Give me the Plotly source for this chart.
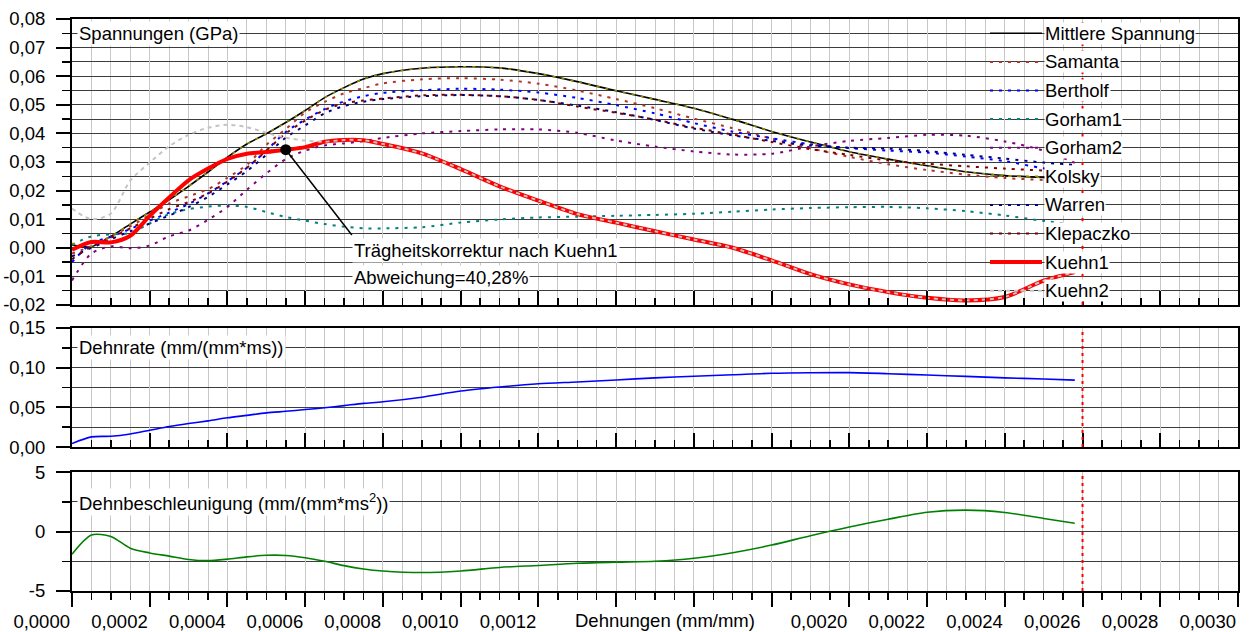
import plotly.graph_objects as go

# ---------------------------------------------------------------- data
strain = [0, 0.00005, 0.0001, 0.00015, 0.0002, 0.00025, 0.0003, 0.00035, 0.0004, 0.00045,
          0.0005, 0.00055, 0.0006, 0.00065, 0.0007, 0.00075, 0.0008, 0.0009, 0.0010, 0.0011,
          0.0012, 0.0013, 0.0014, 0.0015, 0.0016, 0.0017, 0.0018, 0.0019, 0.0020, 0.0021,
          0.0022, 0.0023, 0.0024, 0.0025, 0.00258]

mittlere_spannung = [0.0010, 0.0004, 0.0040, 0.0083, 0.0125, 0.0168, 0.0215, 0.0265, 0.0317, 0.0363,
                     0.0399, 0.0438, 0.0480, 0.0525, 0.0560, 0.0590, 0.0609, 0.0628, 0.0633, 0.0629,
                     0.0609, 0.0581, 0.0549, 0.0519, 0.0488, 0.0449, 0.0407, 0.0370, 0.0336, 0.0310,
                     0.0287, 0.0266, 0.0253, 0.0246, 0.0243]
samanta = [-0.0020, 0.0006, 0.0040, 0.0075, 0.0115, 0.0155, 0.0180, 0.0205, 0.0245, 0.0290,
           0.0360, 0.0415, 0.0473, 0.0510, 0.0540, 0.0558, 0.0575, 0.0589, 0.0593, 0.0588,
           0.0574, 0.0550, 0.0520, 0.0488, 0.0452, 0.0418, 0.0382, 0.0348, 0.0318, 0.0292,
           0.0272, 0.0256, 0.0244, 0.0237, 0.0234]
bertholf = [-0.0050, 0.0015, 0.0039, 0.0066, 0.0095, 0.0123, 0.0153, 0.0190, 0.0233, 0.0280,
            0.0340, 0.0405, 0.0448, 0.0485, 0.0512, 0.0530, 0.0542, 0.0551, 0.0556, 0.0553,
            0.0543, 0.0524, 0.0499, 0.0470, 0.0436, 0.0406, 0.0383, 0.0362, 0.0349, 0.0340,
            0.0333, 0.0319, 0.0303, 0.0278, 0.0265]
gorham1 = [0.0010, 0.0040, 0.0047, 0.0052, 0.0085, 0.0118, 0.0135, 0.0144, 0.0148, 0.0143,
           0.0125, 0.0108, 0.0095, 0.0083, 0.0074, 0.0068, 0.0068, 0.0072, 0.0088, 0.0099,
           0.0106, 0.0109, 0.0112, 0.0115, 0.0119, 0.0126, 0.0134, 0.0139, 0.0142, 0.0143,
           0.0138, 0.0128, 0.0113, 0.0094, 0.0080]
gorham2 = [-0.0114, -0.0020, 0.0005, -0.0002, 0.0008, 0.0040, 0.0060, 0.0098, 0.0143, 0.0203,
           0.0260, 0.0310, 0.0340, 0.0358, 0.0365, 0.0373, 0.0384, 0.0400, 0.0408, 0.0414,
           0.0414, 0.0402, 0.0375, 0.0354, 0.0337, 0.0326, 0.0329, 0.0354, 0.0374, 0.0384,
           0.0395, 0.0392, 0.0372, 0.0340, 0.0297]
kolsky = [0.0016, 0.0005, 0.0040, 0.0083, 0.0125, 0.0168, 0.0215, 0.0265, 0.0317, 0.0363,
          0.0399, 0.0438, 0.0480, 0.0525, 0.0560, 0.0590, 0.0609, 0.0628, 0.0633, 0.0629,
          0.0609, 0.0581, 0.0549, 0.0519, 0.0488, 0.0449, 0.0407, 0.0370, 0.0336, 0.0310,
          0.0287, 0.0266, 0.0253, 0.0246, 0.0243]
warren = [-0.0030, 0.0000, 0.0030, 0.0058, 0.0085, 0.0113, 0.0142, 0.0178, 0.0222, 0.0268,
          0.0325, 0.0385, 0.0428, 0.0470, 0.0496, 0.0511, 0.0520, 0.0530, 0.0534, 0.0530,
          0.0517, 0.0497, 0.0474, 0.0447, 0.0417, 0.0393, 0.0374, 0.0358, 0.0350, 0.0347,
          0.0338, 0.0325, 0.0312, 0.0298, 0.0290]
klepaczko = [-0.0040, 0.0005, 0.0035, 0.0068, 0.0102, 0.0135, 0.0160, 0.0190, 0.0232, 0.0280,
             0.0340, 0.0400, 0.0445, 0.0482, 0.0505, 0.0515, 0.0522, 0.0533, 0.0535, 0.0530,
             0.0517, 0.0494, 0.0472, 0.0448, 0.0420, 0.0396, 0.0370, 0.0345, 0.0325, 0.0305,
             0.0294, 0.0285, 0.0277, 0.0270, 0.0266]
kuehn1 = [-0.0007, 0.0020, 0.0019, 0.0042, 0.0112, 0.0176, 0.0236, 0.0277, 0.0311, 0.0329,
          0.0335, 0.0343, 0.0352, 0.0371, 0.0377, 0.0376, 0.0363, 0.0330, 0.0275, 0.0215,
          0.0165, 0.0118, 0.0088, 0.0058, 0.0029, 0.0000, -0.0044, -0.0092, -0.0128, -0.0155,
          -0.0175, -0.0184, -0.0172, -0.0115, -0.0085]
kuehn2 = [0.0137, 0.0100, 0.0120, 0.0235, 0.0298, 0.0355, 0.0395, 0.0420, 0.0430, 0.0422,
          0.0402, 0.0385, 0.0375, 0.0371, 0.0377, 0.0376, 0.0363, 0.0330, 0.0275, 0.0215,
          0.0165, 0.0118, 0.0088, 0.0058, 0.0029, 0.0000, -0.0044, -0.0092, -0.0128, -0.0155,
          -0.0175, -0.0184, -0.0172, -0.0115, -0.0085]

dehnrate = [0.0044, 0.0128, 0.0136, 0.0165, 0.0211, 0.0258, 0.0296, 0.0330, 0.0368, 0.0399,
            0.0430, 0.0450, 0.0472, 0.0495, 0.0522, 0.0550, 0.0570, 0.0628, 0.0706, 0.0757,
            0.0797, 0.0820, 0.0845, 0.0871, 0.0892, 0.0910, 0.0929, 0.0936, 0.0937, 0.0924,
            0.0907, 0.0890, 0.0872, 0.0857, 0.0843]
dehnbeschleunigung = [-1.92, -0.30, -0.42, -1.40, -1.80, -2.07, -2.35, -2.45, -2.32, -2.13,
                      -2.00, -2.01, -2.20, -2.50, -2.87, -3.15, -3.32, -3.45, -3.32, -3.02,
                      -2.85, -2.67, -2.57, -2.50, -2.25, -1.78, -1.14, -0.35, 0.38, 1.03,
                      1.62, 1.80, 1.60, 1.10, 0.69]

series_names = ["Mittlere Spannung", "Samanta", "Bertholf", "Gorham1", "Gorham2",
                "Kolsky", "Warren", "Klepaczko", "Kuehn1", "Kuehn2"]
series_values = [mittlere_spannung, samanta, bertholf, gorham1, gorham2,
                 kolsky, warren, klepaczko, kuehn1, kuehn2]

# marked point on the Kuehn1 curve and the deviation text
marker_index = 11
label_anchor = (0.00072, 0.0045)
deviation_text = ["Trägheitskorrektur nach Kuehn1", "Abweichung=40,28%"]
strain_limit = 0.0026

stress_ticks = [-0.02, -0.01, 0.00, 0.01, 0.02, 0.03, 0.04, 0.05, 0.06, 0.07, 0.08]
rate_ticks = [0.00, 0.05, 0.10, 0.15]
accel_ticks = [-5, 0, 5]
strain_ticks = [0.0000, 0.0002, 0.0004, 0.0006, 0.0008, 0.0010, 0.0012, 0.0014,
                0.0016, 0.0018, 0.0020, 0.0022, 0.0024, 0.0026, 0.0028, 0.0030]
strain_hidden = [0.0014, 0.0016, 0.0018]

# ---------------------------------------------------------------- styles
DOT = "3px,6px"
styles = {
    "Mittlere Spannung": dict(color="#000000", width=1.6, dash="solid"),
    "Samanta": dict(color="#b0342c", width=2, dash=DOT),
    "Bertholf": dict(color="#0000ff", width=2, dash=DOT),
    "Gorham1": dict(color="#008080", width=2, dash=DOT),
    "Gorham2": dict(color="#800080", width=2, dash=DOT),
    "Kolsky": dict(color="#8c8c00", width=1.6, dash=DOT),
    "Warren": dict(color="#000080", width=2, dash=DOT),
    "Klepaczko": dict(color="#800000", width=2, dash=DOT),
    "Kuehn1": dict(color="#ff0000", width=4, dash="solid"),
    "Kuehn2": dict(color="#c4c4c4", width=2, dash="4px,4px"),
}

FONT = "Arial, Liberation Sans, sans-serif"
FSIZE = 18.5
GRID_X = "#c8c8c8"
GRID_Y = "#3c3c3c"


def fmt_comma(v, digits):
    return f"{v:.{digits}f}".replace(".", ",")


fig = go.Figure()

for name, vals in zip(series_names, series_values):
    st = styles[name]
    fig.add_trace(go.Scatter(
        x=strain, y=vals, mode="lines", name=name,
        line=dict(color=st["color"], width=st["width"], dash=st["dash"],
                  shape="spline", smoothing=0.8),
        xaxis="x", yaxis="y", hoverinfo="skip", showlegend=False))

fig.add_trace(go.Scatter(
    x=[strain[marker_index]], y=[kuehn1[marker_index]], mode="markers",
    marker=dict(color="black", size=11), xaxis="x", yaxis="y",
    hoverinfo="skip", showlegend=False))

fig.add_trace(go.Scatter(
    x=strain, y=dehnrate, mode="lines",
    line=dict(color="#0000ff", width=1.6, shape="spline", smoothing=0.8),
    xaxis="x2", yaxis="y2", hoverinfo="skip", showlegend=False))

fig.add_trace(go.Scatter(
    x=strain, y=dehnbeschleunigung, mode="lines",
    line=dict(color="#008000", width=1.6, shape="spline", smoothing=0.8),
    xaxis="x3", yaxis="y3", hoverinfo="skip", showlegend=False))

# ---------------------------------------------------------------- axes
def x_axis(anchor, inside, labels):
    ax = dict(
        anchor=anchor, domain=[0, 1], range=[0, 0.003],
        tickmode="array", tickvals=strain_ticks,
        ticks="inside" if inside else "outside", ticklen=14, tickwidth=2, tickcolor="black",
        showticklabels=labels,
        showgrid=True, gridcolor=GRID_X, gridwidth=1,
        minor=dict(dtick=0.00005, tick0=0, ticks="inside" if inside else "outside",
                   ticklen=7, tickwidth=1.5, tickcolor="black",
                   showgrid=True, gridcolor=GRID_X, gridwidth=1),
        showline=True, linecolor="black", linewidth=2, mirror=True,
        zeroline=False, fixedrange=True, automargin=False,
    )
    if labels:
        ax["ticktext"] = ["" if any(abs(v - h) < 1e-9 for h in strain_hidden)
                          else fmt_comma(v, 4) for v in strain_ticks]
        ax["ticklabelposition"] = "outside left"
        ax["ticklabelstandoff"] = 13
        ax["tickfont"] = dict(family=FONT, size=FSIZE, color="black")
    return ax


def y_axis(domain, rng, ticks, texts, minor_step, anchor):
    return dict(
        domain=domain, range=rng, anchor=anchor,
        tickmode="array", tickvals=ticks, ticktext=texts,
        ticks="outside", ticklen=14, tickwidth=2, tickcolor="black",
        ticklabelstandoff=7,
        tickfont=dict(family=FONT, size=FSIZE, color="black"),
        showgrid=True, gridcolor=GRID_Y, gridwidth=1,
        minor=dict(dtick=minor_step, tick0=0, ticks="outside", ticklen=8, tickwidth=1.5,
                   tickcolor="black", showgrid=True, gridcolor=GRID_Y, gridwidth=1),
        showline=True, linecolor="black", linewidth=2, mirror=True,
        zeroline=False, fixedrange=True, automargin=False,
    )


fig.update_layout(
    width=1250, height=632,
    margin=dict(l=72, r=12, t=19, b=41, autoexpand=False),
    paper_bgcolor="white", plot_bgcolor="white",
    font=dict(family=FONT, size=FSIZE, color="black"),
    xaxis=x_axis("y", True, False),
    xaxis2=x_axis("y2", True, False),
    xaxis3=x_axis("y3", False, True),
    yaxis=y_axis([0.5, 1.0], [-0.02, 0.08], stress_ticks,
                 [fmt_comma(v, 2) for v in stress_ticks], 0.005, "x"),
    yaxis2=y_axis([0.2517, 0.4598], [0, 0.15], rate_ticks,
                  [fmt_comma(v, 2) for v in rate_ticks], 0.025, "x2"),
    yaxis3=y_axis([0.0, 0.208], [-5, 5], accel_ticks,
                  [str(v) for v in accel_ticks], 2.5, "x3"),
    hovermode=False,
)

# ---------------------------------------------------------------- shapes
shapes = []
for xr, yr in (("x", "y domain"), ("x2", "y2 domain"), ("x3", "y3 domain")):
    shapes.append(dict(type="line", xref=xr, yref=yr, x0=strain_limit, x1=strain_limit,
                       y0=0, y1=1, line=dict(color="#ff0000", width=2, dash="3px,4px"),
                       layer="above"))

shapes.append(dict(type="line", xref="x", yref="y",
                   x0=strain[marker_index], y0=kuehn1[marker_index],
                   x1=label_anchor[0], y1=label_anchor[1],
                   line=dict(color="black", width=1.5), layer="above"))

# hand-placed key, one row per stress curve on the half-step grid lines
key_x0, key_x1, key_text_x = 0.7873, 0.8319, 0.8336
annotations = []
for i, name in enumerate(series_names):
    row_y = 0.075 - 0.01 * i
    st = styles[name]
    shapes.append(dict(type="line", xref="paper", yref="y", x0=key_x0, x1=key_x1,
                       y0=row_y, y1=row_y,
                       line=dict(color=st["color"], width=st["width"], dash=st["dash"]),
                       layer="above"))
    annotations.append(dict(xref="paper", yref="y", x=key_text_x, y=row_y,
                            xanchor="left", yanchor="middle", text=name, showarrow=False,
                            bgcolor="white", borderpad=0,
                            font=dict(family=FONT, size=FSIZE, color="black")))

fig.update_layout(shapes=shapes)

# panel labels
for text, yr, yv in (("Spannungen (GPa)", "y", 0.075),
                     ("Dehnrate (mm/(mm*ms))", "y2", 0.125),
                     ("Dehnbeschleunigung (mm/(mm*ms<sup>2</sup>))", "y3", 2.5)):
    annotations.append(dict(xref="paper", yref=yr, x=0.004, y=yv, xanchor="left",
                            yanchor="middle", text=text, showarrow=False,
                            bgcolor="white", borderpad=1,
                            font=dict(family=FONT, size=FSIZE, color="black")))

# deviation note next to the leader line
for text, yv in zip(deviation_text, (-0.0008, -0.0105)):
    annotations.append(dict(xref="paper", yref="y", x=0.2405, y=yv, xanchor="left",
                            yanchor="middle", text=text, showarrow=False,
                            bgcolor="white", borderpad=1,
                            font=dict(family=FONT, size=FSIZE, color="black")))

# strain axis title between the tick labels
annotations.append(dict(xref="paper", yref="paper", x=0.509, y=-0.0507,
                        xanchor="center", yanchor="middle", text="Dehnungen (mm/mm)",
                        showarrow=False, font=dict(family=FONT, size=FSIZE, color="black")))

fig.update_layout(annotations=annotations)

fig.write_html("out.html", config={"displayModeBar": False, "staticPlot": True})
